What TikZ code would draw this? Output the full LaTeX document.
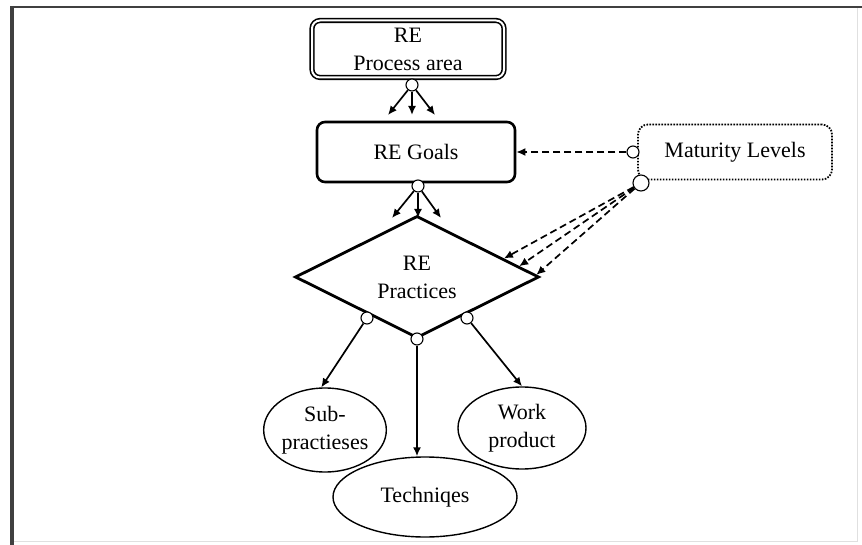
\documentclass[tikz,border=0pt]{standalone}
\usepackage{fontspec}
\setmainfont{Liberation Serif}
\usetikzlibrary{shapes.geometric,arrows.meta}
\begin{document}
\begin{tikzpicture}[x=1pt,y=-1pt,
  every node/.style={font=\fontsize{22}{28}\selectfont},
  box/.style={draw, rounded corners=8pt, line width=2.6pt, align=center, minimum width=198pt, minimum height=60pt},
  oval/.style={draw, ellipse, line width=1.4pt, align=center, inner sep=0pt},
  port/.style={draw, circle, fill=white, line width=1.1pt, inner sep=0pt, minimum size=12pt},
  link/.style={-{Latex[length=9pt,width=8pt]}, line width=1.7pt},
  dlink/.style={-{Latex[length=9pt,width=8pt]}, line width=1.7pt, dash pattern=on 7pt off 4pt}]
\useasboundingbox (0,0) rectangle (862,545);
\draw [black!12, line width=1pt] (857,7) -- (857,541) -- (12,541);
\draw [black!75, line width=2.5pt] (862,7) -- (12,7);
\draw [black!75, line width=4pt] (12,6) -- (12,545);
\node [box, line width=1.6pt, double, double distance=2pt, minimum width=192pt, minimum height=57pt] (PA) at (408,49) {RE\\Process area};
\node [box] (GO) at (416,152) {RE Goals};
\node [draw, diamond, line width=2.8pt, inner sep=0pt, align=center, minimum width=244pt, minimum height=113pt] (PR) at (417,277) {RE\\Practices};
\node [draw, line width=1.8pt, dash pattern=on 1.6pt off 1.4pt, rounded corners=10pt, minimum width=194pt, minimum height=55pt] (ML) at (735,152) {Maturity Levels};
\node [oval, minimum width=120pt, minimum height=84pt] (SU) at (325,430) {Sub-\\practieses};
\node [oval, minimum width=184pt, minimum height=80pt] (TE) at (425,497) {Techniqes};
\node [oval, minimum width=128pt, minimum height=82pt] (WO) at (522,428) {Work\\product};
\node [port] (p1) at (412,85) {};
\node [port] (p2) at (418,186) {};
\node [port] (p3) at (633,152) {};
\node [port, minimum size=16pt] (p4) at (641,183) {};
\node [port] (p5) at (367,318) {};
\node [port] (p6) at (417,339) {};
\node [port] (p7) at (467,318) {};
\coordinate (g1) at (388,115);
\coordinate (g2) at (412,115);
\coordinate (g3) at (435,115);
\coordinate (r1) at (392,218);
\coordinate (r2) at (418,218);
\coordinate (r3) at (441,218);
\draw [link] (p1) -- (g1);
\draw [link] (p1) -- (g2);
\draw [link] (p1) -- (g3);
\draw [link] (p2) -- (r1);
\draw [link] (p2) -- (r2);
\draw [link] (p2) -- (r3);
\draw [dlink] (p3) -- (GO.east);
\draw [dlink] (p4) -- (PR.12);
\draw [dlink] (p4) -- (PR.6);
\draw [dlink] (p4) -- (PR.1.5);
\draw [link] (p5) -- (SU.95);
\draw [link] (p6) -- (p6 |- TE.north);
\draw [link] (p7) -- (WO.north);
\end{tikzpicture}
\end{document}
